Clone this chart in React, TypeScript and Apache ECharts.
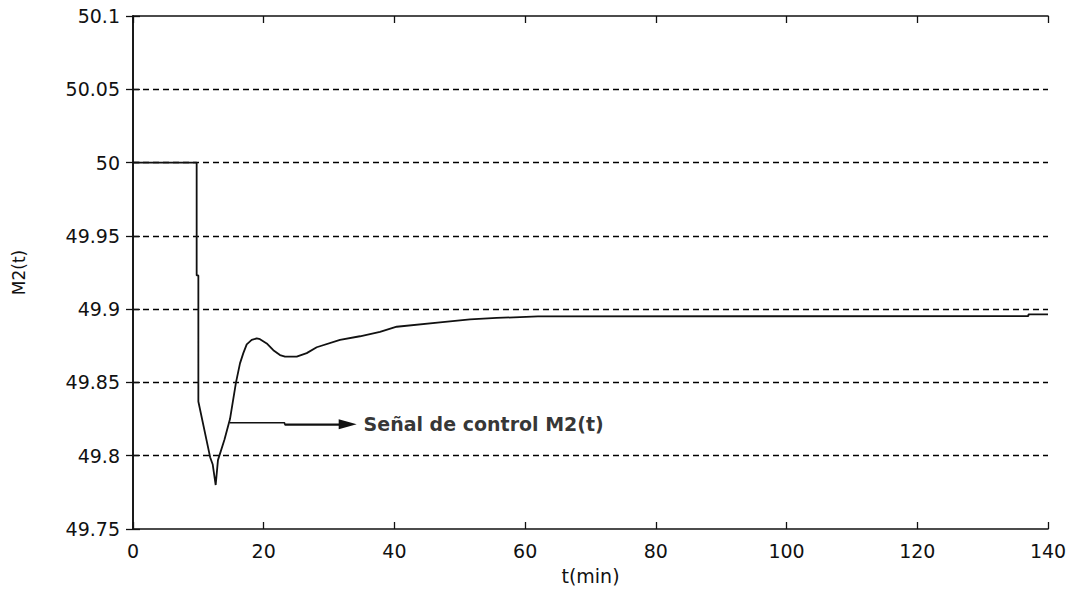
import React, { useEffect, useRef } from "react";
import * as echarts from "echarts";

const tValues = [0, 9.74, 9.74, 10.0, 10.0, 11.8, 12.2, 12.65, 13.0, 14.0, 14.84, 15.76, 16.37, 16.88, 17.4, 18.16, 18.93, 19.43, 20.46, 21.47, 22.49, 23.26, 25.05, 26.58, 28.11, 31.67, 34.73, 37.79, 40.35, 46.97, 51.56, 55.65, 61.96, 137.0, 137.0, 140];
const m2Values = [50, 50, 49.923, 49.923, 49.837, 49.799, 49.794, 49.78, 49.797, 49.811, 49.825, 49.85, 49.863, 49.87, 49.876, 49.879, 49.88, 49.8795, 49.8766, 49.872, 49.8687, 49.8676, 49.8676, 49.87, 49.874, 49.879, 49.8815, 49.8845, 49.888, 49.891, 49.893, 49.894, 49.895, 49.8953, 49.8964, 49.8964];

const arrowT = [14.84, 23.2, 23.2, 32.85];
const arrowV = [49.8225, 49.8225, 49.8214, 49.8214];
const annotationText = "Señal de control M2(t)";
const annotationAt = [35.2, 49.8214];

const xMin = 0, xMax = 140, xStep = 20;
const yMin = 49.75, yMax = 50.1, yStep = 0.05;

const FONT = "DejaVu Sans";
const INK = "#111111";

export default function App() {
  const ref = useRef<HTMLDivElement>(null);
  useEffect(() => {
    const chart = echarts.init(ref.current!, null, { renderer: "svg" });
    const axisLine = { show: true, lineStyle: { color: INK, width: 1.6 } };
    const tick = { show: true, inside: true, length: 7, lineStyle: { color: INK, width: 1.3 } };
    chart.setOption({
      animation: false,
      backgroundColor: "#ffffff",
      grid: { left: 133, right: 23, top: 16, bottom: 56, containLabel: false },
      xAxis: [
        {
          type: "value", min: xMin, max: xMax, interval: xStep, position: "bottom",
          name: "t(min)", nameLocation: "middle", nameGap: 37,
          nameTextStyle: { fontFamily: FONT, fontSize: 19, color: INK },
          axisLine, axisTick: tick,
          axisLabel: { margin: 12, fontFamily: FONT, fontSize: 19, color: INK },
          splitLine: { show: false },
        },
        {
          type: "value", min: xMin, max: xMax, interval: xStep, position: "top",
          axisLine, axisTick: tick, axisLabel: { show: false }, splitLine: { show: false },
        },
      ],
      yAxis: [
        {
          type: "value", min: yMin, max: yMax, interval: yStep, position: "left",
          name: "M2(t)", nameLocation: "middle", nameGap: 106,
          nameTextStyle: { fontFamily: FONT, fontSize: 17, color: INK },
          axisLine, axisTick: tick,
          axisLabel: {
            margin: 13, fontFamily: FONT, fontSize: 19, color: INK,
            formatter: (v: number) => String(Math.round(v * 100) / 100),
          },
          splitLine: {
            show: true, showMinLine: false, showMaxLine: false,
            lineStyle: { color: "#000000", width: 1.4, type: [6, 4] },
          },
        },
        {
          type: "value", min: yMin, max: yMax, interval: yStep, position: "right",
          axisLine, axisTick: tick, axisLabel: { show: false }, splitLine: { show: false },
        },
      ],
      series: [
        {
          type: "line", xAxisIndex: 0, yAxisIndex: 0, symbol: "none",
          data: tValues.map((t, i) => [t, m2Values[i]]),
          lineStyle: { color: INK, width: 1.8 },
        },
        {
          type: "line", xAxisIndex: 0, yAxisIndex: 0, symbol: "none",
          data: arrowT.map((t, i) => [t, arrowV[i]]),
          lineStyle: { color: INK, width: 1.5 },
          markLine: {
            silent: true,
            symbol: ["none", "triangle"],
            symbolSize: [10, 18],
            label: { show: false },
            lineStyle: { color: INK, width: 1.5, type: "solid" },
            data: [[{ coord: [arrowT[2], arrowV[2]] }, { coord: [arrowT[3], arrowV[3]] }]],
          },
        },
        {
          type: "scatter", xAxisIndex: 0, yAxisIndex: 0, symbolSize: 1,
          itemStyle: { color: "rgba(0,0,0,0)" },
          data: [annotationAt],
          label: {
            show: true, position: "right", distance: 0, formatter: annotationText,
            fontFamily: FONT, fontWeight: "bold", fontSize: 19, color: "#000000",
          },
        },
      ],
    });
    return () => chart.dispose();
  }, []);
  return <div ref={ref} style={{ position: "absolute", left: 0, top: 0, width: 1071, height: 590 }} />;
}
